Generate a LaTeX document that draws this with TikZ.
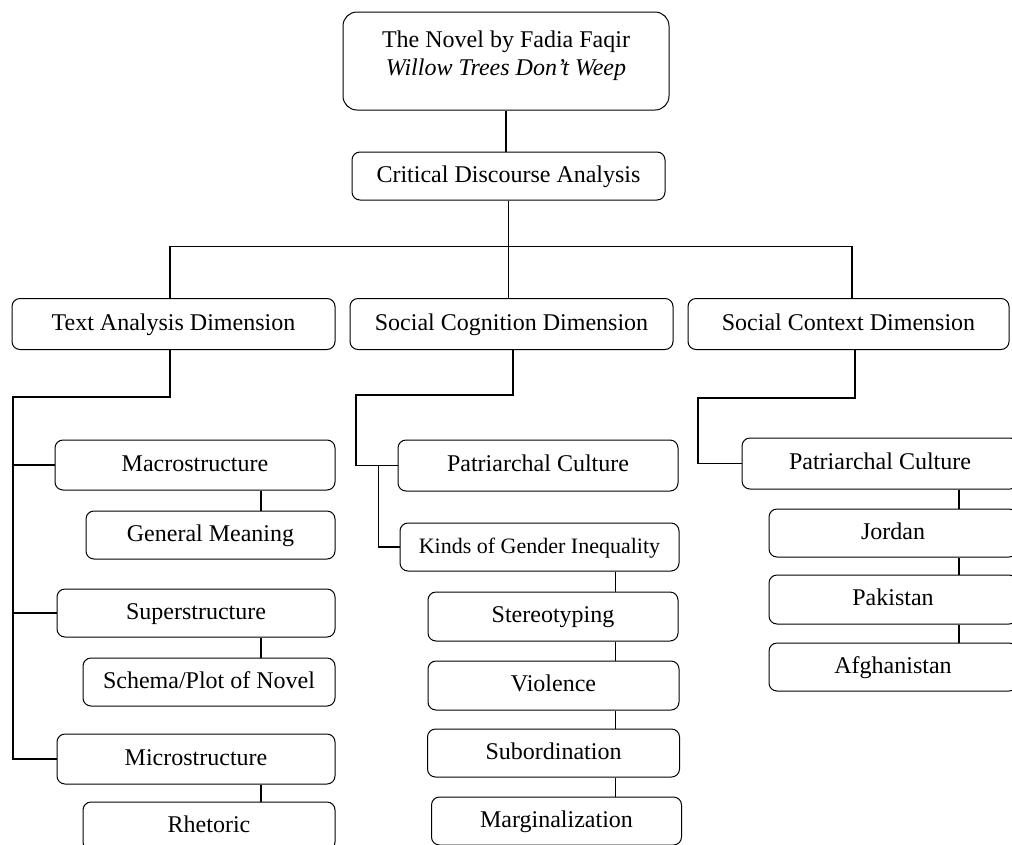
\documentclass[tikz,border=0pt]{standalone}
\usepackage{fontspec}
\setmainfont{Liberation Serif}
\usetikzlibrary{positioning,calc}
\tikzset{
  basic/.style  = {draw, rectangle, line width=1pt, font=\fontsize{24}{28}\selectfont, inner sep=2pt},
  root/.style = {basic, rounded corners=14pt, align=center},
  level 2/.style = {basic, rounded corners=8pt, minimum height=51pt, text height=17pt, text depth=5pt},
  level 3/.style = {basic, rounded corners=8pt, minimum height=48pt, text height=17pt, text depth=5pt},
  link/.style = {line width=1.3pt}
}

\begin{document}
\begin{tikzpicture}[x=1pt,y=-1pt]
\path[use as bounding box, clip] (0,0) rectangle (1012,844);
\node [root, minimum width=326pt, minimum height=98pt] (start) at (506,61) {The Novel by Fadia Faqir\\ \textit{Willow Trees Don't Weep}\\[-12pt]\mbox{}};
\node [level 3, minimum width=313pt] (c0) at (508.5,176) {Critical Discourse Analysis};
% the three dimensions
\node [level 2, minimum width=323pt] (c1) at (173.5,324) {Text Analysis Dimension};
\node [level 2, minimum width=323pt] (c2) at (511.5,324) {Social Cognition Dimension};
\node [level 2, minimum width=321pt] (c3) at (848.5,324) {Social Context Dimension};
\begin{scope}[every node/.style={level 3}]
% branch of text analysis
\node [minimum width=280pt, minimum height=50pt] (c11) at (195,465) {Macrostructure};
\node [below =20pt of c11, xshift=15.5pt, minimum width=249pt] (c12) {General Meaning};
\node [below =29pt of c12, xshift=-14.5pt, minimum width=278pt] (c13) {Superstructure};
\node [below =20pt of c13, xshift=13pt, minimum width=252pt] (c14) {Schema/Plot of Novel};
\node [below =27pt of c14, xshift=-13pt, minimum width=278pt, minimum height=50pt] (c15) {Microstructure};
\node [below =17pt of c15, xshift=13pt, minimum width=252pt] (c16) {Rhetoric};
% branch of social cognition
\node [minimum width=280pt, minimum height=51pt] (c21) at (538,465.5) {Patriarchal Culture};
\node [below =31pt of c21, xshift=1.5pt, minimum width=279pt, font=\fontsize{22}{26}\selectfont] (c22) {Kinds of Gender Inequality};
\node [below =20pt of c22, xshift=13.5pt, minimum width=250pt, minimum height=49pt] (c23) {Stereotyping};
\node [below =19pt of c23, xshift=0.5pt, minimum width=251pt, minimum height=49pt] (c24) {Violence};
\node [below =18pt of c24, minimum width=252pt] (c25) {Subordination};
\node [below =19pt of c25, xshift=3pt, minimum width=250pt] (c26) {Marginalization};
% branch of social context
\node [minimum width=276pt, minimum height=51pt] (c31) at (880,463.5) {Patriarchal Culture};
\node [below =19pt of c31, xshift=13pt, minimum width=248pt] (c32) {Jordan};
\node [below =17pt of c32, minimum width=248pt, minimum height=49pt] (c33) {Pakistan};
\node [below =18pt of c33, minimum width=248pt] (c34) {Afghanistan};
\end{scope}
% bus lines and the x of the chains
\coordinate (bus1) at (13,397);
\coordinate (bus2) at (356,395);
\coordinate (bus3) at (698,398);
\coordinate (m1) at (261,0);
\coordinate (m2) at (615.5,0);
\coordinate (m3) at (959,0);
% draw lines from the start node
\draw [link] (start.south) -- (start.south |- c0.north);
\draw [link] (c0.south) -- ++(0,46) coordinate (hub);
\draw [link] ([xshift=-3.5pt]c1.north) |- (hub) -| ([xshift=3.5pt]c3.north);
\draw [link] (hub) -- (hub |- c2.north);
% draw lines of text analysis branch
\draw [link] ([xshift=-3.5pt]c1.south) |- (bus1) |- (c15.west);
\draw [link] (bus1 |- c11.west) -- (c11.west);
\draw [link] (bus1 |- c13.west) -- (c13.west);
\foreach \a/\b in {c11/c12,c13/c14,c15/c16}
  \draw [link] (m1 |- \a.south) -- (m1 |- \b.north);
% draw lines of social cognition branch
\draw [link] ([xshift=1.5pt]c2.south) |- (bus2) |- (c21.west);
\draw [link] ([xshift=-19pt]c21.west) |- (c22.west);
\foreach \a/\b in {c22/c23,c23/c24,c24/c25,c25/c26}
  \draw [link] (m2 |- \a.south) -- (m2 |- \b.north);
% draw lines of social context branch
\draw [link] ([xshift=6.5pt]c3.south) |- (bus3) |- (c31.west);
\foreach \a/\b in {c31/c32,c32/c33,c33/c34}
  \draw [link] (m3 |- \a.south) -- (m3 |- \b.north);
\end{tikzpicture}
\end{document}
